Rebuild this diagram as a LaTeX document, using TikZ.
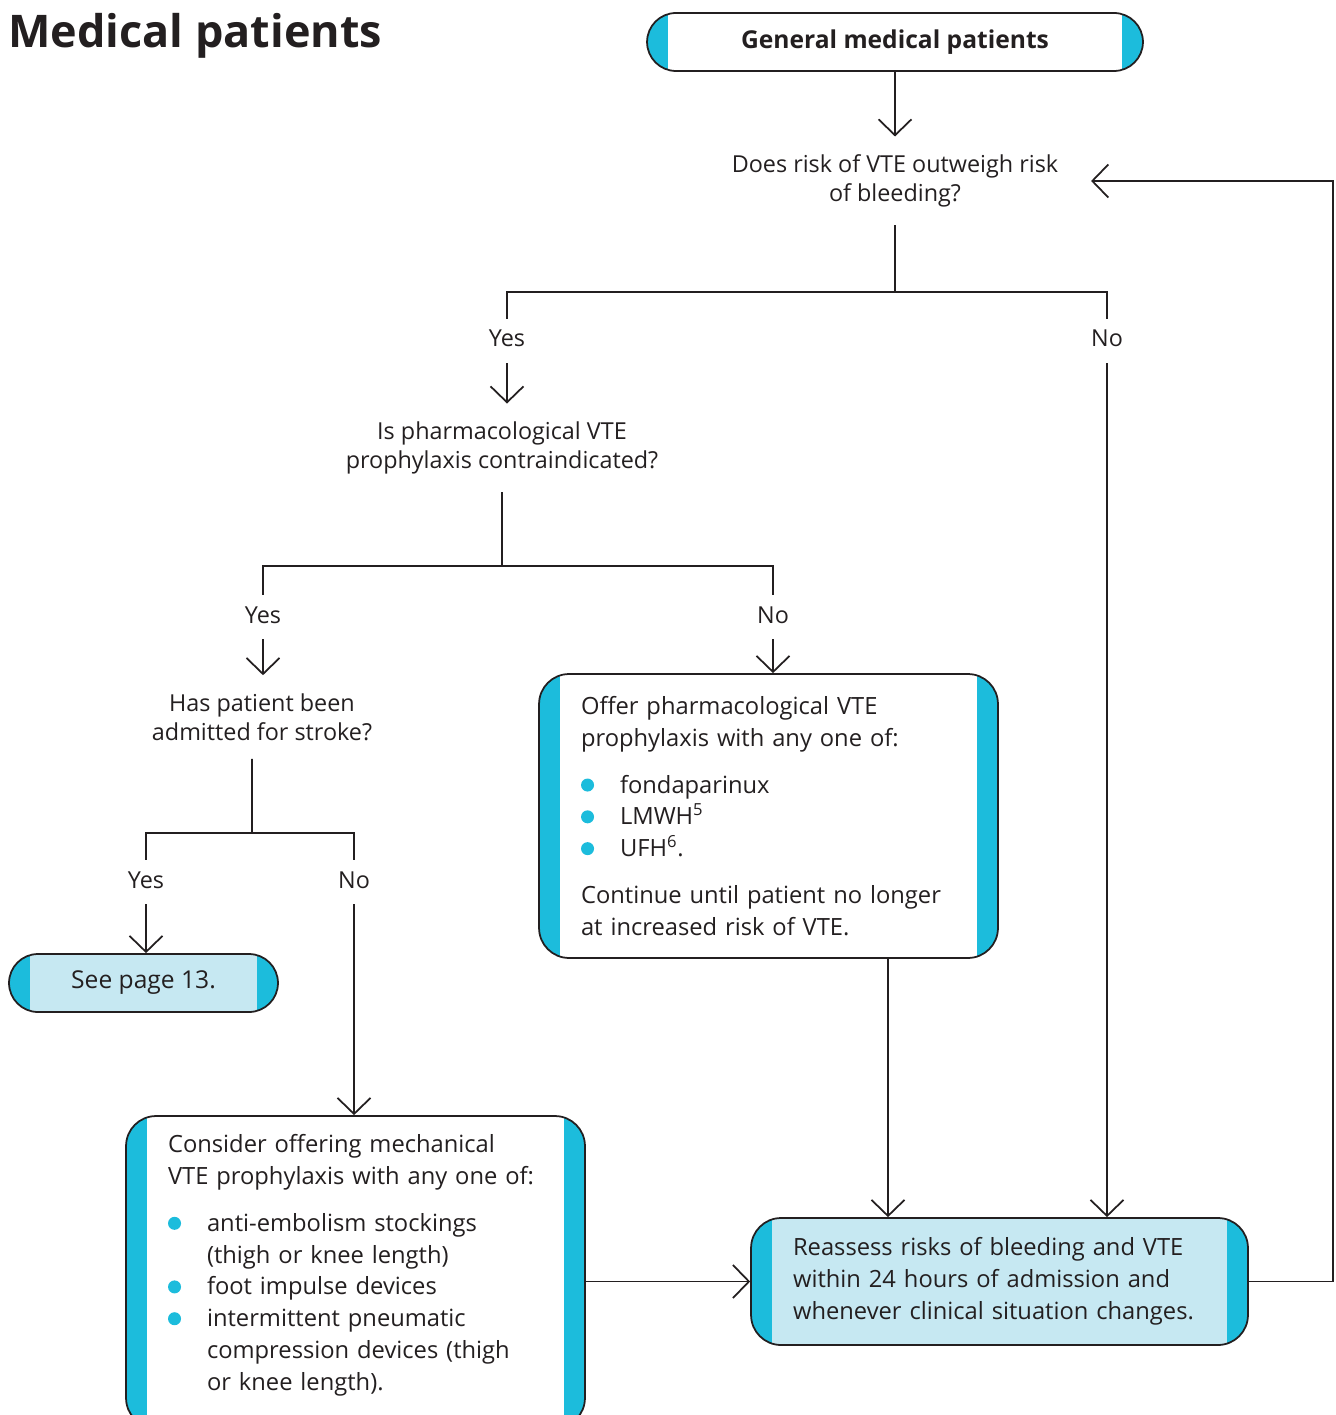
\documentclass[tikz,border=0pt]{standalone}
\usepackage{fontspec}
\setmainfont{Open Sans}
\usepackage{tikz}
\usepackage{xcolor}
\usetikzlibrary{arrows.meta}

\definecolor{ink}{HTML}{231F20}
\definecolor{vtecyan}{HTML}{1CBCDC}
\definecolor{vtepale}{HTML}{C6E8F2}

\newcommand{\boxfont}{\fontsize{13.5}{18.1}\selectfont}
\newcommand{\qfont}{\fontsize{13.3}{16.4}\selectfont}
\newcommand{\titlefont}{\fontsize{25.6}{30}\selectfont\bfseries}
\newcommand{\vtebullet}{\makebox[0.78cm][l]{\tikz[baseline=0pt]\fill[vtecyan] (0.13cm,0.34em) circle (0.13cm);}}
\newcommand{\vteindent}{\hspace*{0.78cm}}

\tikzset{
  flow/.style={draw=ink, line width=1pt},
  arr/.style={flow, -{Straight Barb[length=0.32cm, width=0.66cm]}},
  q/.style={text=ink, align=center, font=\qfont, inner xsep=2pt, inner ysep=0.36cm},
  lab/.style={text=ink, font=\qfont, inner xsep=2pt, inner ysep=0.22cm, text height=0.34cm, text depth=0.1cm},
  bandfill/.style={path picture={\fill[#1, sharp corners] ([xshift=0.42cm]path picture bounding box.south west) rectangle ([xshift=-0.42cm]path picture bounding box.north east);}},
  box/.style={draw=ink, line width=1pt, fill=vtecyan, text=ink, font=\boxfont},
  pill/.style={box, rounded corners=0.58cm, minimum height=1.16cm, inner sep=0pt},
  panel/.style={box, rounded corners=0.6cm, align=left, inner xsep=0.84cm, inner ysep=0pt}
}

\begin{document}
\begin{tikzpicture}[x=0.02cm, y=-0.02cm]
  \useasboundingbox (0,0) rectangle (1335,1415);

  % heading and start
  \node[anchor=base west, text=ink, font=\titlefont, inner sep=0pt] (title) at (8,48) {Medical patients};
  \node[pill, bandfill=white, minimum width=9.92cm, font=\fontsize{14}{16}\selectfont\bfseries] (gen) at (895,42) {General medical patients};

  % questions and answers
  \node[q] (q1) at (895,181) {Does risk of VTE outweigh risk\\of bleeding?};
  \node[lab] (yes1) at (507,341) {Yes};
  \node[lab] (no1) at (1107,341) {No};
  \node[q] (q2) at (502,448) {Is pharmacological VTE\\prophylaxis contraindicated?};
  \node[lab] (yes2) at (263,617) {Yes};
  \node[lab] (no2) at (773,617) {No};
  \node[q] (q3) at (262,717) {Has patient been\\admitted for stroke?};
  \node[lab] (yes3) at (146,882) {Yes};
  \node[lab] (no3) at (354,882) {No};

  % outcomes
  \node[pill, bandfill=vtepale, minimum width=5.38cm, font=\fontsize{14}{16}\selectfont] (see) at (143.5,983) {See page 13.};
  \node[panel, bandfill=white, minimum width=9.18cm, minimum height=5.68cm, text width=7.5cm] (offer) at (768.5,816)
    {Offer pharmacological VTE\\
     prophylaxis with any one of:\\[0.3cm]
     \vtebullet fondaparinux\\
     \vtebullet LMWH\textsuperscript{5}\\
     \vtebullet UFH\textsuperscript{6}.\\[0.3cm]
     Continue until patient no longer\\
     at increased risk of VTE.};
  \node[panel, bandfill=white, minimum width=9.18cm, minimum height=6.24cm, text width=7.5cm] (cons) at (355.5,1272)
    {Consider offering mechanical\\
     VTE prophylaxis with any one of:\\[0.3cm]
     \vtebullet anti-embolism stockings\\
     \vteindent (thigh or knee length)\\
     \vtebullet foot impulse devices\\
     \vtebullet intermittent pneumatic\\
     \vteindent compression devices (thigh\\
     \vteindent or knee length).\rule[-0.38cm]{0pt}{0.1cm}};
  \node[panel, bandfill=vtepale, minimum width=9.94cm, minimum height=2.54cm, text width=8.26cm] (reas) at (999.5,1281.5)
    {Reassess risks of bleeding and VTE\\
     within 24 hours of admission and\\
     whenever clinical situation changes.};

  \coordinate (b1) at (895,292);
  \coordinate (b2) at (502,566);
  \coordinate (b3) at (252,833);
  \coordinate (loop) at (1333,181);

  % connectors
  \draw[arr] (gen) -- (q1);
  \draw[flow] (q1) -- (b1);
  \draw[flow] (yes1) |- (b1) -| (no1);
  \draw[arr] (yes1) -- (yes1 |- q2.north);
  \draw[arr] (no1) -- (no1 |- reas.north);
  \draw[flow] (q2) -- (b2);
  \draw[flow] (yes2) |- (b2) -| (no2);
  \draw[arr] (yes2) -- (yes2 |- q3.north);
  \draw[arr] (no2) -- (no2 |- offer.north);
  \draw[flow] ([xshift=-0.2cm]q3.south) -- (b3);
  \draw[flow] (yes3) |- (b3) -| (no3);
  \draw[arr] (yes3) -- (yes3 |- see.north);
  \draw[arr] (no3) -- (no3 |- cons.north);
  \draw[arr] ([xshift=2.39cm]offer.south) -- ([xshift=2.39cm]offer.south |- reas.north);
  \draw[arr] (reas.west -| cons.east) -- (reas.west);
  \draw[arr] (reas.east) -| (loop) -- ([xshift=0.58cm]q1.east);
\end{tikzpicture}
\end{document}
